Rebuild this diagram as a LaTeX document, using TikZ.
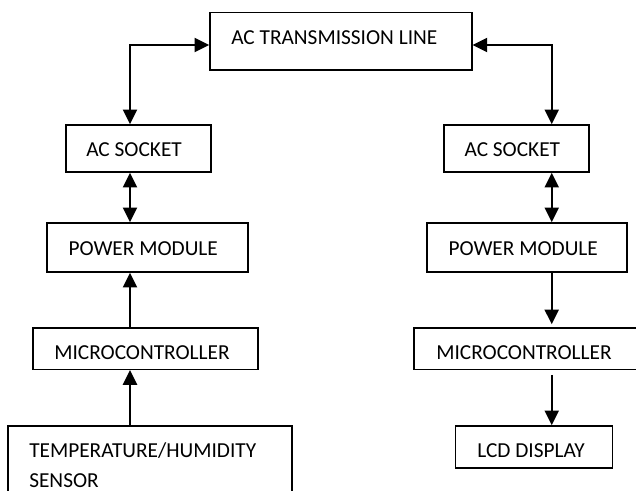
\documentclass[tikz,border=0pt]{standalone}
\usepackage{fontspec}
\setmainfont{Carlito}
\usetikzlibrary{arrows.meta}

\tikzset{
  box/.style={draw, line width=1.2pt, inner sep=0pt},
  txt/.style={anchor=base west, inner sep=0pt, font=\fontsize{16}{19}\selectfont},
  onearr/.style={line width=1.6pt, -{Triangle[length=11pt,width=10.5pt]}},
  twoarr/.style={line width=1.6pt, {Triangle[length=11pt,width=10.5pt]}-{Triangle[length=11pt,width=10.5pt]}}
}

\begin{document}
\begin{tikzpicture}[x=0.75pt,y=0.75pt,yscale=-1,xscale=1]
				\useasboundingbox (0,0) rectangle (636,490);
				
				%Shape: Rectangle [id:line]
				\node [box, minimum width=196.3pt, minimum height=43pt] (line) at (340.85,41.35) {};
				%Shape: Rectangle [id:sockL]
				\node [box, minimum width=108.75pt, minimum height=35.25pt] (sockL) at (138.2,148.5) {};
				%Shape: Rectangle [id:sockR]
				\node [box, minimum width=108.75pt, minimum height=35.25pt] (sockR) at (516.2,148.5) {};
				%Shape: Rectangle [id:pmL]
				\node [box, minimum width=150.75pt, minimum height=36.75pt] (pmL) at (147.2,247.5) {};
				%Shape: Rectangle [id:pmR]
				\node [box, minimum width=150pt, minimum height=36.75pt] (pmR) at (527,247.5) {};
				%Shape: Rectangle [id:mcL]
				\node [box, minimum width=168.75pt, minimum height=31.2pt] (mcL) at (145.5,348.5) {};
				%Shape: Rectangle [id:mcR]
				\node [box, minimum width=168.75pt, minimum height=31.2pt] (mcR) at (526.5,348.5) {};
				%Shape: Rectangle [id:sens]
				\node [box, minimum width=212.8pt, minimum height=63pt] (sens) at (150.15,468) {};
				%Shape: Rectangle [id:lcd]
				\node [box, minimum width=118pt, minimum height=31.7pt] (lcd) at (534,447.15) {};
				
				% trunk lines
				\coordinate (lx) at (130,0);
				\coordinate (rx) at (551.7,0);
				
				%Straight Lines
				\draw [twoarr] (sockL.north -| lx) |- ([yshift=2.7pt]line.west);
				\draw [twoarr] (sockR.north -| rx) |- ([yshift=2.7pt]line.east);
				\draw [twoarr] (sockL.south -| lx) -- (pmL.north -| lx);
				\draw [twoarr] (sockR.south -| rx) -- (pmR.north -| rx);
				\draw [onearr] (mcL.north -| lx) -- (pmL.south -| lx);
				\draw [onearr] (sens.north -| lx) -- (mcL.south -| lx);
				\draw [onearr, shorten >=2pt] (pmR.south -| rx) -- (mcR.north -| rx);
				\draw [onearr, shorten <=3.5pt] (mcR.south -| rx) -- (lcd.north -| rx);
				
				% Text Node
				\draw (231,44) node [txt] (tLine) {AC TRANSMISSION LINE};
				% Text Node
				\draw (86,156.7) node [txt] (tSockL) {AC SOCKET};
				% Text Node
				\draw (464.3,156.7) node [txt] (tSockR) {AC SOCKET};
				% Text Node
				\draw (68.3,255) node [txt] (tPmL) {POWER MODULE};
				% Text Node
				\draw (448.3,255) node [txt] (tPmR) {POWER MODULE};
				% Text Node
				\draw (54,359.3) node [txt] (tMcL) {MICROCONTROLLER};
				% Text Node
				\draw (436,359.3) node [txt] (tMcR) {MICROCONTROLLER};
				% Text Node
				\draw (477,457.3) node [txt] (tLcd) {LCD DISPLAY};
				% Text Node
				\draw (29,457.3) node [txt] (tSens) {TEMPERATURE/HUMIDITY};
				% Text Node
				\draw (29,487) node [txt] (tSens2) {SENSOR};
				
\end{tikzpicture}
\end{document}
